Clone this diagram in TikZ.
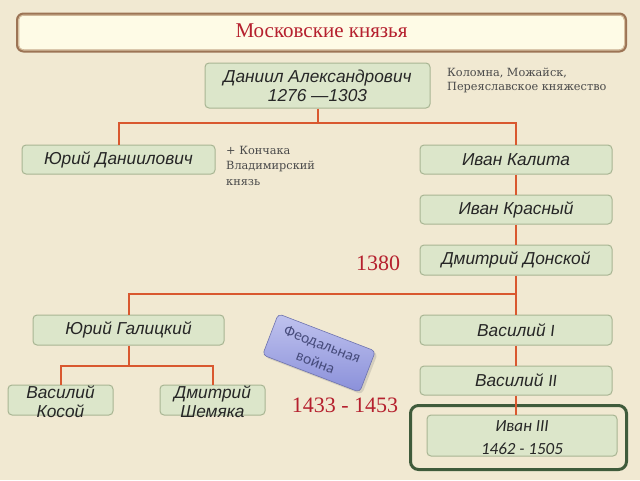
\documentclass[tikz,border=0pt]{standalone}
\usepackage{fontspec}
\setmainfont{Liberation Serif}
\setsansfont{Liberation Sans}
\newfontfamily\calib{Carlito}
\newfontfamily\noteserif{DejaVu Serif}
\usetikzlibrary{shadows}
\definecolor{bgc}{HTML}{F1E9D2}
\definecolor{titlefill}{HTML}{FEFBE6}
\definecolor{titleout}{HTML}{9C7455}
\definecolor{titlein}{HTML}{D9C2A2}
\definecolor{connc}{HTML}{D9582F}
\definecolor{boxfill}{HTML}{DCE6CA}
\definecolor{boxdraw}{HTML}{A8B593}
\definecolor{redtxt}{HTML}{B5202E}
\definecolor{smalltxt}{HTML}{4A4A4A}
\definecolor{framec}{HTML}{3F5B3B}
\definecolor{feudtop}{HTML}{C0C3EE}
\definecolor{feudbot}{HTML}{8A90DA}
\definecolor{feudtxt}{HTML}{474C7C}
\tikzset{
  gbox/.style={rectangle, rounded corners=4pt, fill=boxfill, draw=boxdraw, line width=1pt,
    font=\sffamily\itshape\fontsize{17.3}{19}\selectfont, text=black!85, align=center, inner sep=0pt},
  gtext/.style={font=\sffamily\itshape\fontsize{17.3}{19}\selectfont, text=black!85, align=center, inner sep=0pt},
  conn/.style={draw=connc, line width=2pt},
  small/.style={font=\noteserif\fontsize{11.3}{14}\selectfont, text=smalltxt, align=left, anchor=north west, inner sep=0pt},
  redbig/.style={font=\fontsize{22}{24}\selectfont, text=redtxt, inner sep=0pt},
}
\begin{document}
\begin{tikzpicture}[x=1pt,y=-1pt]
\fill[bgc] (0,0) rectangle (640,480);
\useasboundingbox (0,0) rectangle (640,480);
% title
\node[rectangle, rounded corners=6pt, fill=titlefill, draw=titleout, line width=3pt,
  minimum width=608pt, minimum height=37pt, inner sep=0pt] (title) at (321.5,32.5) {};
\draw[titlein, line width=1pt, rounded corners=5pt] ([shift={(2.5pt,-2.5pt)}]title.north west) rectangle ([shift={(-2.5pt,2.5pt)}]title.south east);
\node[font=\fontsize{21}{24}\selectfont, text=redtxt] (titletxt) at (321.5,30.5) {Московские князья};
% boxes
\node[gbox, minimum width=225pt, minimum height=45pt] (dan) at (317.5,85.5) {Даниил Александрович\\1276 —1303};
\node[gbox, minimum width=193pt, minimum height=29pt] (yur) at (118.5,159.5) {Юрий Даниилович};
\node[gbox, minimum width=192pt, minimum height=29pt] (kal) at (516,159.5) {Иван Калита};
\node[gbox, minimum width=192pt, minimum height=29pt] (kras) at (516,209.5) {Иван Красный};
\node[gbox, minimum width=192pt, minimum height=30pt] (don) at (516,260) {Дмитрий Донской};
\node[gbox, minimum width=191pt, minimum height=30pt] (gal) at (128.5,330) {Юрий Галицкий};
\node[gbox, minimum width=192pt, minimum height=30pt] (v1) at (516,330) {Василий \calib I};
\node[gbox, minimum width=192pt, minimum height=29pt] (v2) at (516,380.5) {Василий \calib II};
\node[rectangle, rounded corners=8pt, draw=framec, line width=3pt, minimum width=216pt, minimum height=64pt] (ivframe) at (518.5,437.5) {};
\node[gbox, minimum width=190pt, minimum height=41pt, font=\calib\itshape\fontsize{17}{23}\selectfont] (iv3) at (522,435.5) {};
\node[font=\calib\itshape\fontsize{17}{23}\selectfont, text=black!85, align=center, inner sep=0pt] (iv3txt) at (522,437.5) {Иван III\\1462 - 1505};
\node[gbox, minimum width=105pt, minimum height=30pt] (kos) at (60.5,400) {};
\node[gtext] (kostxt) at (60.5,401.5) {Василий\\Косой};
\node[gbox, minimum width=105pt, minimum height=30pt] (shem) at (212.5,400) {};
\node[gtext] (shemtxt) at (212.5,401.5) {Дмитрий\\Шемяка};
% feudal war
\node[rectangle, rounded corners=4pt, rotate=-21, top color=feudtop, bottom color=feudbot, draw=feudbot!80!black,
  line width=0.6pt, minimum width=104pt, minimum height=44pt, inner sep=0pt, drop shadow={opacity=0.25}] (feud) at (319,353) {};
\node[rotate=-21, align=center, text=feudtxt, font=\calib\fontsize{15.5}{19}\selectfont, inner sep=0pt] (feudtxt) at (319,353) {Феодальная\\война};
% annotations
\node[small] (kolomna) at (447,68) {Коломна, Можайск,\\Переяславское княжество};
\node[small, font=\noteserif\fontsize{11.3}{15.5}\selectfont] (konchak) at (226,146) {+ Кончака\\Владимирский\\князь};
\node[redbig] (y1380) at (378,263) {1380};
\node[redbig] (y1433) at (345,405) {1433 - 1453};
% connectors
\coordinate (bus1) at (dan.south |- 0,123);
\draw[conn] (dan.south) -- (bus1);
\draw[conn] (yur.north) |- (bus1) -| (kal.north);
\draw[conn] (kal.south) -- (kras.north);
\draw[conn] (kras.south) -- (don.north);
\coordinate (bus2) at (don.south |- 0,294);
\draw[conn] (don.south) -- (v1.north);
\draw[conn] (gal.north) |- (bus2);
\draw[conn] (v1.south) -- (v2.north);
\draw[conn] (v2.south) -- (v2.south |- iv3.north);
\coordinate (bus3) at (gal.south |- 0,366);
\draw[conn] (gal.south) -- (bus3);
\draw[conn] (kos.north) |- (bus3) -| (shem.north);
\end{tikzpicture}
\end{document}
